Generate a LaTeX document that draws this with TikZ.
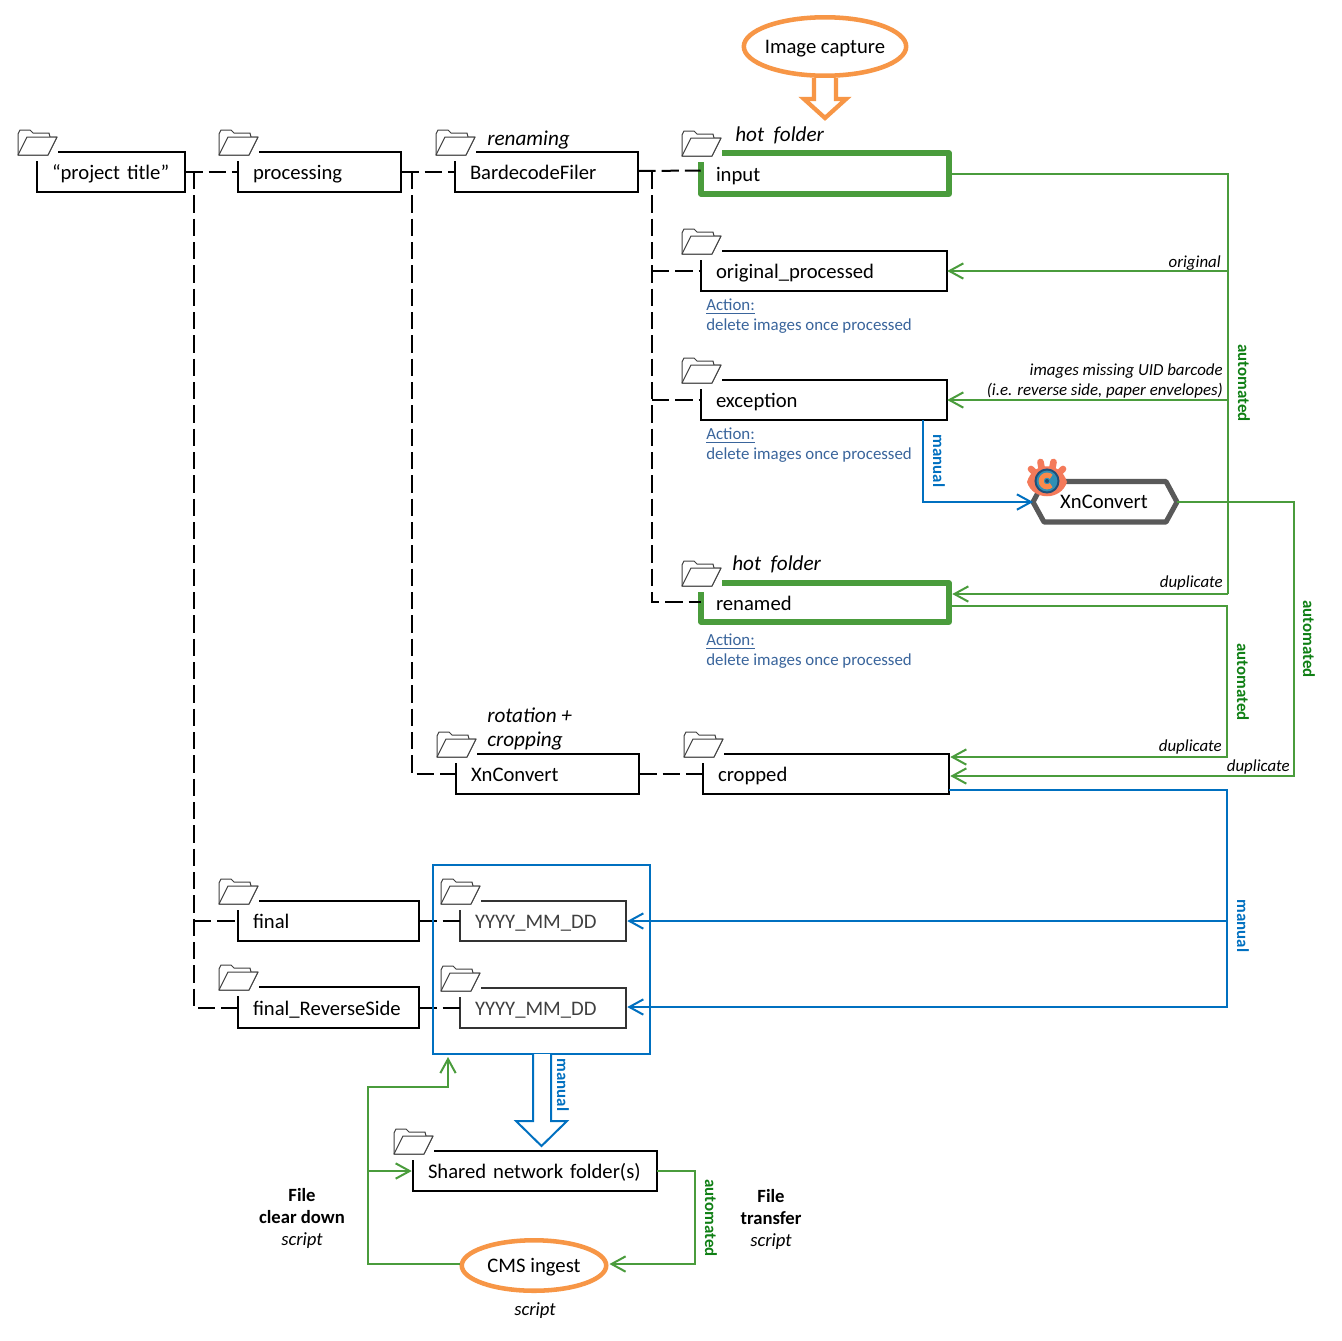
\documentclass[tikz,border=0pt]{standalone}
\usepackage{fontspec}
\setmainfont{Carlito}
\usetikzlibrary{arrows.meta,calc,shapes.geometric}
\definecolor{grn}{HTML}{4A9C3C}
\definecolor{dgrn}{HTML}{0F7F14}
\definecolor{blu}{HTML}{0070C0}
\definecolor{org}{HTML}{F79646}
\definecolor{act}{HTML}{3A659C}
\definecolor{hexg}{HTML}{595959}
\definecolor{icona}{HTML}{F47A5A}
\definecolor{iconb}{HTML}{1F4F78}
\definecolor{iconc}{HTML}{2F8FB5}
\definecolor{icond}{HTML}{FA8A4A}
\tikzset{
  x=0.75pt,y=-0.75pt,
  boxline/.style={draw=black,line width=1.5pt,line join=miter},
  hotline/.style={draw=grn,line width=3.8pt,line join=round},
  greyline/.style={draw=black!80,line width=1.5pt},
  boxlabel/.style={inner ysep=0pt,inner xsep=11.25pt,align=left,font=\fontsize{15.5}{17}\selectfont,text height=13pt,text depth=1.5pt},
  folderline/.style={draw=black!75,line width=0.75pt,line join=round,fill=white},
  dashline/.style={draw=black,line width=1.5pt,dash pattern=on 13pt off 4.5pt},
  gline/.style={draw=grn,line width=1.5pt,line join=miter},
  bline/.style={draw=blu,line width=1.5pt,line join=miter},
  gtip/.style={-{Straight Barb[length=10.5pt,width=11.5pt,line width=1.5pt]}},
  notelab/.style={font=\fontsize{12.65}{14}\selectfont\itshape,inner sep=0pt},
  headlab/.style={font=\fontsize{15.9}{18}\selectfont\itshape,inner sep=0pt,anchor=west},
  actionlab/.style={font=\fontsize{12.65}{14}\selectfont,text=act,inner sep=0pt,anchor=west},
  autolab/.style={font=\fontsize{12.65}{14}\selectfont\bfseries,text=dgrn,inner sep=0pt,rotate=-90},
  manlab/.style={font=\fontsize{12.65}{14}\selectfont\bfseries,text=blu,inner sep=0pt,rotate=-90},
  boldcap/.style={font=\fontsize{14}{16}\selectfont\bfseries,inner sep=0pt},
  itcap/.style={font=\fontsize{14}{16}\selectfont\itshape,inner sep=0pt},
  oval/.style={ellipse,draw=org,line width=3.4pt,fill=white,inner sep=0pt,font=\fontsize{15.5}{17}\selectfont,text height=12pt,text depth=2pt}
}
% folder icon, top left corner at (#1,#2)
\newcommand\foldericon[2]{%
  \begin{scope}[shift={(#1,#2)}]
    \draw[folderline] (1,26) -- (1,5) -- (3,1) -- (13,1) -- (16,4) -- (32,4) -- (33,8) -- (40,8) -- (31,26) -- cycle;
    \draw[folderline] (1,26) -- (10,8) -- (40,8) -- (31,26) -- cycle;
  \end{scope}}
% [line style]{name}{x1}{y1}{x2}{y2}{text}
\newcommand\foldbox[7][boxline]{%
  \foldericon{#3-20}{#4-23}
  \pgfmathsetmacro\bw{(#5-#3)*0.75}\pgfmathsetmacro\bh{(#6-#4)*0.75}\pgfmathsetmacro\tw{\bw-22.5}
  \node[boxlabel,minimum width=\bw pt,minimum height=\bh pt,text width=\tw pt] (#2) at ({(#3+#5)/2},{(#4+#6)/2}) {#7};
  \draw[#1] (#3,#4+9) -- (#3,#6) -- (#5,#6) -- (#5,#4) -- (#3+21,#4);
}
\begin{document}
\begin{tikzpicture}
\useasboundingbox[fill=white] (0,0) rectangle (1342,1340);

% ---------- dashed tree
\coordinate (t1) at (194,172);
\coordinate (t1a) at (194,921);
\coordinate (t1b) at (194,1008);
\coordinate (t2) at (412,172);
\coordinate (t2a) at (412,774);
\coordinate (t3) at (652,172);
\coordinate (t3a) at (652,271);
\coordinate (t3b) at (652,400);
\coordinate (t3c) at (652,602);

% ---------- folder boxes
\foldbox{proj}{37}{152}{185}{192}{“project title”}
\foldbox{proc}{238}{152}{401}{192}{processing}
\foldbox{bard}{455}{152}{638}{192}{BardecodeFiler}
\foldbox[hotline]{input}{701}{153}{949}{194}{input}
\foldbox{orig}{701}{251}{947}{291}{original\_processed}
\foldbox{exc}{701}{380}{947}{420}{exception}
\foldbox[hotline]{ren}{701}{583}{949}{622}{renamed}
\foldbox{xnc}{456}{754}{639}{794}{XnConvert}
\foldbox{crop}{703}{754}{949}{794}{cropped}
\foldbox{fin}{238}{901}{419}{941}{final}
\foldbox{finrev}{238}{987}{419}{1028}{final\_ReverseSide}
\foldbox[greyline]{ya}{460}{901}{626}{941}{\textcolor{black!75}{YYYY\_MM\_DD}}
\foldbox[greyline]{yb}{460}{988}{626}{1028}{\textcolor{black!75}{YYYY\_MM\_DD}}
\foldbox{shared}{413}{1151}{657}{1191}{Shared network folder(s)}

% dashed connectors
\draw[dashline] (proj.east) -- (proc.west);
\draw[dashline] (t1) -- (t1b) -- (finrev.west |- t1b);
\draw[dashline] (t1a) -- (fin.west |- t1a);
\draw[dashline] (proc.east) -- (bard.west);
\draw[dashline] (t2) -- (t2a) -- (xnc.west |- t2a);
\draw[dashline] ($(bard.east)+(0,-1)$) -- ($(input.west)+(0,-3)$);
\draw[dashline] (t3) -- (t3c) -- (ren.west |- t3c);
\draw[dashline] (t3a) -- (orig.west |- t3a);
\draw[dashline] (t3b) -- (exc.west |- t3b);
\draw[dashline] (xnc.east) -- (crop.west);
\draw[dashline] (fin.east) -- (ya.west);
\draw[dashline] (finrev.east |- yb) -- (yb.west);

% ---------- blue group box
\node[draw=blu,line width=1.5pt,minimum width=162.75pt,minimum height=141.75pt,inner sep=0pt] (group) at (541.5,959.5) {};

% ---------- ovals
\node[oval,minimum width=121.75pt,minimum height=43.85pt] (capture) at (825,46.5) {\makebox[0pt]{Image capture}};
\node[oval,minimum width=108.35pt,minimum height=37.85pt] (cms) at (534,1265.5) {\makebox[0pt]{CMS ingest}};

% hollow arrows
\draw[draw=org,line width=3.2pt,fill=white,line join=miter] (814,78) -- (814,99) -- (804,99) -- (825,118) -- (846,99) -- (836,99) -- (836,78);
\draw[draw=blu,line width=1.5pt,fill=white,line join=miter] (533,1054) -- (533,1121) -- (516,1121) -- (541.5,1146) -- (567,1121) -- (551,1121) -- (551,1054);

% ---------- hexagon
\coordinate (hw) at (1033,502);
\coordinate (he) at (1177,502);
\draw[draw=hexg,line width=3.8pt,fill=white,line join=round] (hw) -- (1044,481.5) -- (1166,481.5) -- (he) -- (1166,522) -- (1044,522) -- cycle;
\node[inner sep=0pt,font=\fontsize{15.5}{17}\selectfont,text height=12pt,text depth=2pt] (hex) at (1104,502) {XnConvert};

% ---------- green connectors
\coordinate (g1a) at (1228,174);
\coordinate (g1b) at (1228,271);
\coordinate (g1c) at (1228,400);
\coordinate (g1d) at (1228,594);
\draw[gline] ($(input.east)+(2,0.5)$) -- (g1a) -- (g1d);
\draw[gline,gtip] (g1b) -- (orig.east |- g1b);
\draw[gline,gtip] (g1c) -- (exc.east |- g1c);
\draw[gline,gtip] (g1d) -- ($(ren.east |- g1d)+(3,0)$);
\coordinate (g2a) at (1227,606);
\coordinate (g2b) at (1227,757);
\draw[gline,gtip] ($(ren.east |- g2a)+(2,0)$) -- (g2a) -- (g2b) -- ($(crop.east |- g2b)+(1,0)$);
\coordinate (g3a) at (1294,502);
\coordinate (g3b) at (1294,776);
\draw[gline,gtip] (he) -- (g3a) -- (g3b) -- ($(crop.east |- g3b)+(1,0)$);
% ---------- blue connectors
\coordinate (b1) at (923,502);
\draw[bline,gtip] (exc.south -| b1) -- (b1) -- (hw);
\coordinate (b2a) at (1227,790);
\coordinate (b2b) at (1227,1007);
\coordinate (b2c) at (1227,921);
\draw[bline,gtip] (crop.east |- b2a) -- (b2a) -- (b2b) -- ($(yb.east |- b2b)+(1,0)$);
\draw[bline,gtip] (b2c) -- ($(ya.east |- b2c)+(1,0)$);
% ---------- green, bottom
\coordinate (g4a) at (368,1264);
\coordinate (g4b) at (368,1087);
\coordinate (g4c) at (448,1087);
\coordinate (g4d) at (368,1171);
\draw[gline,gtip] (cms.west |- g4a) -- (g4a) -- (g4b) -- (g4c) -- ($(group.south -| g4c)+(0,2)$);
\draw[gline,gtip] (g4d) -- ($(shared.west |- g4d)+(-1,0)$);
\coordinate (g5a) at (695,1171);
\coordinate (g5b) at (695,1264);
\draw[gline,gtip] (shared.east |- g5a) -- (g5a) -- (g5b) -- ($(cms.east |- g5b)+(1,0)$);

% ---------- XnConvert icon
\begin{scope}[shift={(1047,481)}]
  \draw[draw=icona,line width=5pt,line cap=round] (-4,0) -- (-16,-12) (-3,0) -- (-6.5,-19) (3,0) -- (6.5,-19) (4,0) -- (16,-12);
  \fill[icona] (-20,1) .. controls (-14,-20) and (14,-20) .. (20,1) .. controls (14,20) and (-14,20) .. cycle;
  \fill[iconb] (0,0) circle (9.4pt);
  \fill[iconc] (0,0) circle (7.8pt);
  \draw[draw=icond,line width=3.8pt] (4.2,-4.2) arc[start angle=45,end angle=315,radius=4.4pt];
  \fill[iconb] (0,0) circle (1.5pt);
\end{scope}

% ---------- labels
\node[headlab] (l1) at (487,140) {renaming};
\node[headlab] (l2) at (735,135) {hot\ \ folder};
\node[headlab] (l3) at (732,564.5) {hot\ \ folder};
\node[headlab] (l4) at (487,715.5) {rotation +};
\node[headlab] (l5) at (487,741) {cropping};

\node[notelab,anchor=east] (n1) at (1221,263) {original};
\node[notelab,anchor=east] (n2) at (1223,371) {images missing UID barcode};
\node[notelab,anchor=east] (n3) at (1223,390.5) {(i.e. reverse side, paper envelopes)};
\node[notelab,anchor=east] (n4) at (1223,583) {duplicate};
\node[notelab,anchor=east] (n5) at (1222,747) {duplicate};
\node[notelab,anchor=east] (n6) at (1290,767) {duplicate};

\node[actionlab] (a1) at (706,306.5) {\underline{Action:}};
\node[actionlab] (a2) at (706,326.5) {delete images once processed};
\node[actionlab] (a3) at (706,435.5) {\underline{Action:}};
\node[actionlab] (a4) at (706,455.5) {delete images once processed};
\node[actionlab] (a5) at (706,641.5) {\underline{Action:}};
\node[actionlab] (a6) at (706,661.5) {delete images once processed};

\node[autolab] (v1) at (1244,383) {automated};
\node[autolab] (v2) at (1243,682) {automated};
\node[autolab] (v3) at (1309,639) {automated};
\node[autolab] (v4) at (711,1218) {automated};
\node[manlab] (m1) at (939,461) {manual};
\node[manlab] (m2) at (1243,926) {manual};
\node[manlab] (m3) at (563,1085) {manual};

\node[boldcap] (c1) at (302,1195) {File};
\node[boldcap] (c2) at (302,1217) {clear down};
\node[itcap] (c3) at (302,1241) {script};
\node[boldcap] (c4) at (771,1196) {File};
\node[boldcap] (c5) at (771,1218) {transfer};
\node[itcap] (c6) at (771,1242) {script};
\node[itcap] (c7) at (535,1311) {script};
\end{tikzpicture}
\end{document}
